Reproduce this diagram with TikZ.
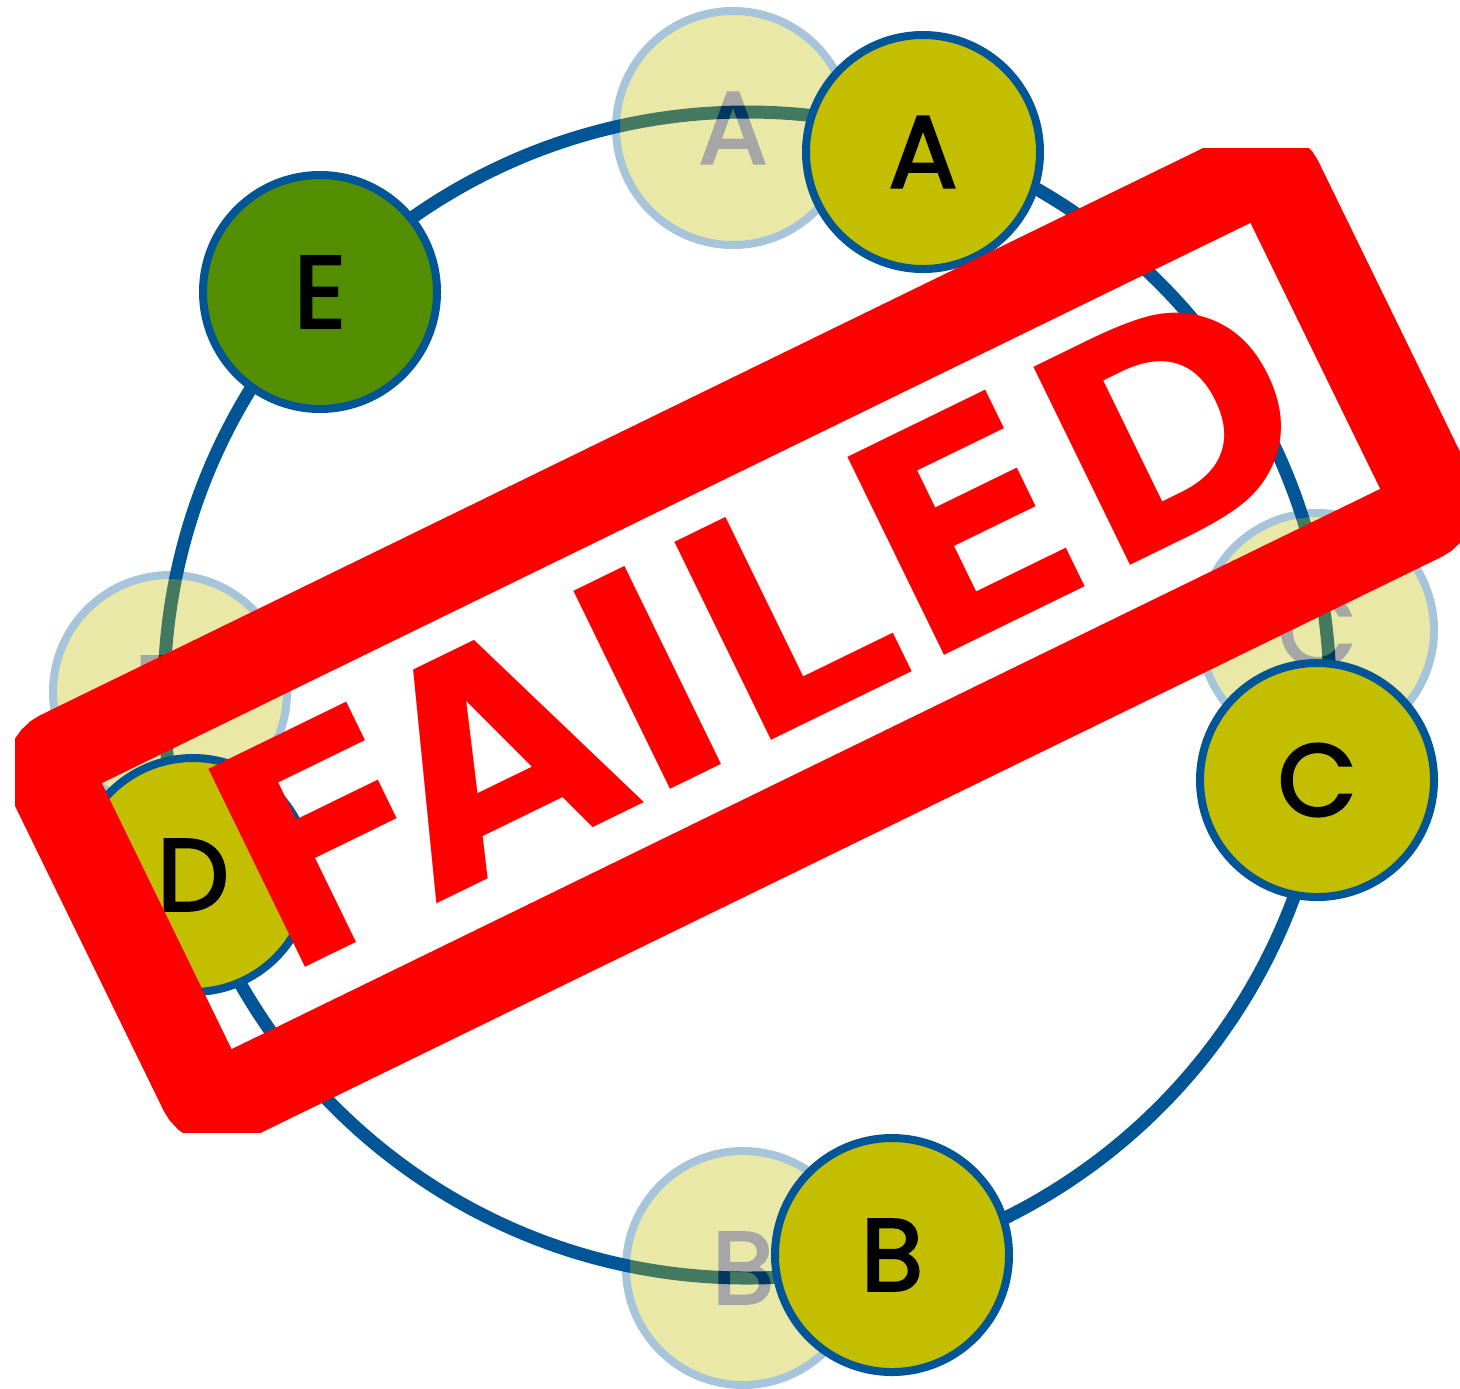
\documentclass[tikz,border=0pt]{standalone}
\usepackage{fontspec}
\newfontfamily\peerfont{Poppins}[FakeBold=2.5]
\newfontfamily\stampfont{DejaVu Sans}
\usepackage{xcolor}

\definecolor{ringblue}{RGB}{0,85,150}
\definecolor{peerolive}{RGB}{195,190,0}
\definecolor{peergreen}{RGB}{82,142,0}
\definecolor{stampred}{RGB}{255,0,0}

\tikzset{
  peer/.style={circle, draw=ringblue, line width=1.6mm, fill=peerolive,
    minimum size=46.8mm, inner sep=0pt, font=\peerfont\fontsize{58}{58}\selectfont},
}

\begin{document}
\begin{tikzpicture}[x=0.2mm, y=-0.2mm]
    \useasboundingbox (0,0) rectangle (1460,1388);
    % Ring
    \coordinate (hub) at (747,695);
    \draw[ringblue, line width=2.6mm] (hub) circle (583);
    % Old places of the peers (faded)
    \begin{scope}[transparency group, opacity=0.35]
      \foreach \name/\x/\y in {A/733/128, C/1317/630, B/743/1268, D/170/692}
        \node[peer] (old\name) at (\x,\y) {\name};
    \end{scope}
    % Peers now
    \node[peer] (A) at (923,152) {A};
    \node[peer] (C) at (1317,780) {C};
    \node[peer] (B) at (892,1255) {B};
    \node[peer] (D) at (193,875) {D};
    \node[peer, fill=peergreen] (E) at (320,292) {E};
    % Stamp
    \begin{scope}
      \clip (15,148) rectangle (1460,1132);
      \begin{scope}[shift={(741,636)}, rotate=26, transform shape]
        \draw[stampred, line width=17.6mm, rounded corners=4mm] (-683,-192) rectangle (683,192);
        \node[text=stampred, inner sep=0pt,
          font=\stampfont\bfseries\fontsize{172}{172}\selectfont] (failed) at (20,-3) {FAILED};
      \end{scope}
    \end{scope}
\end{tikzpicture}
\end{document}
